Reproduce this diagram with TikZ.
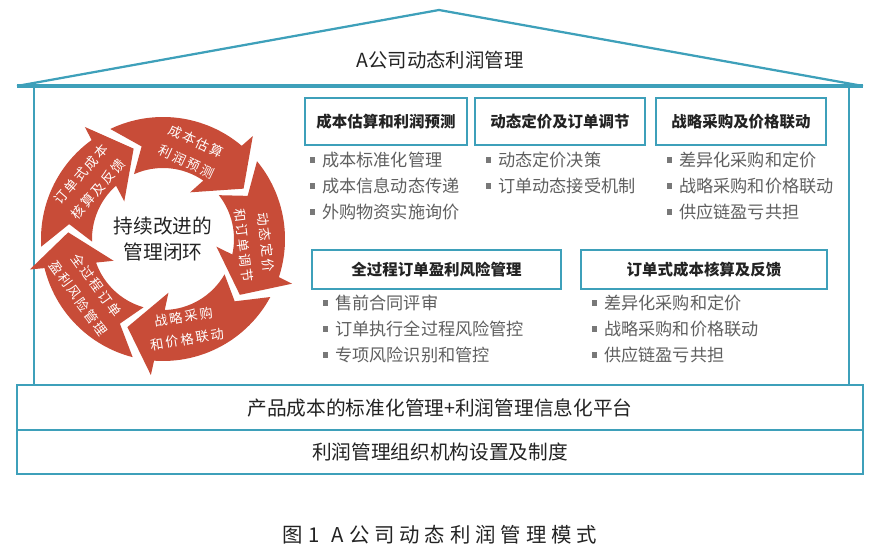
\documentclass[tikz,border=0pt]{standalone}
\usepackage{fontspec}
\setmainfont{Noto Sans CJK SC}
\newfontfamily\cjkspaced{Noto Sans CJK SC}[LetterSpace=15]
\newfontfamily\cjkcap{Noto Sans CJK SC}[LetterSpace=24]
\usepackage{xcolor}
\usetikzlibrary{positioning, calc}
\definecolor{myteal}{RGB}{62,160,186}
\definecolor{myred}{RGB}{200,76,56}
\definecolor{mydark}{RGB}{35,35,35}
\definecolor{mygray}{RGB}{95,95,95}
\definecolor{sqgray}{RGB}{120,120,120}
\tikzset{
  hdrbox/.style={rectangle, draw=myteal, fill=white, text=mydark,
    font=\fontsize{11}{13}\selectfont\bfseries, inner sep=0pt, line width=1.4pt},
  basebox/.style={rectangle, draw=myteal, fill=white, text=mydark,
    font=\fontsize{14}{16}\selectfont, inner sep=0pt, line width=1.4pt,
    minimum width=21.15cm},
  sqbox/.style={fill=sqgray, inner sep=0pt, minimum size=3.6pt},
  item/.style={anchor=west, text=mygray, inner sep=0pt,
    font=\fontsize{12.2}{14}\selectfont, label={[sqbox, label distance=5pt]left:{}}},
  roofline/.style={draw=myteal, line width=1.6pt, line join=round},
  bodyline/.style={draw=myteal, line width=1.4pt}
}
% one arrow of the cycle: #1 = angle of its tip, #2 = tip of the arrow before it
\newcommand{\cyclearrow}[2]{%
  \fill[cycarrow] ({#2+7.6}:122) arc[start angle={#2+7.6}, end angle={#1+17.8}, radius=122]
    -- ({#1+16.9}:136.6) -- (#1:95) -- ({#1+27.8}:54) -- ({#1+23.4}:71)
    arc[start angle={#1+23.4}, end angle={#2+6.1}, radius=71] -- ({#2-5}:95) -- cycle;}

\begin{document}
\begin{tikzpicture}[x=0.025cm, y=0.025cm,
  cycarrow/.style={fill=myred, shift={(163,319)}},
  cyctext/.style={text=white, align=center, inner sep=0pt,
    font=\cjkspaced\fontsize{9.4}{16}\selectfont},
  centertext/.style={text=mydark, align=center, inner sep=0pt,
    font=\fontsize{14}{18}\selectfont}]

  \useasboundingbox (0,0) rectangle (877,558);

  % Roof and walls
  \coordinate (eaveL) at (17,472);
  \coordinate (eaveR) at (863,472);
  \coordinate (apex) at (439,548);
  \draw[roofline] (eaveL) -- (apex) -- (eaveR);
  \draw[myteal, line width=2.2pt] (eaveL) -- (eaveR);
  \draw[bodyline] (34,472) -- (34,173);
  \draw[bodyline] (849,472) -- (849,173);
  \node[centertext, font=\fontsize{13.8}{16}\selectfont] (title) at (440,498) {A公司动态利润管理};

  % Foundation
  \node[basebox, minimum height=1.125cm] (base1) at (440,150.5) {产品成本的标准化管理+利润管理信息化平台};
  \node[basebox, minimum height=1.1cm] (base2) at (440,106) {利润管理组织机构设置及制度};

  % Cycle
  \coordinate (cc) at (163,319);
  \cyclearrow{108}{176}
  \cyclearrow{32}{108}
  \cyclearrow{-36}{32}
  \cyclearrow{-112}{-36}
  \cyclearrow{-184}{-112}
  \node[cyctext, rotate=-25] (c1) at ($(cc)+(72:92)$) {成本估算\\利润预测};
  \node[cyctext, rotate=-83] (c2) at ($(cc)+(-3:92)$) {动态定价\\和订单调节};
  \node[cyctext, rotate=9] (c3) at ($(cc)+(-76:92)$) {战略采购\\和价格联动};
  \node[cyctext, rotate=-54] (c4) at ($(cc)+(-145:92)$) {全过程订单\\盈利风险管理};
  \node[cyctext, rotate=49] (c5) at ($(cc)+(142:93)$) {订单式成本\\核算及反馈};
  \node[centertext] (ct) at (cc) {持续改进的\\管理闭环};

  % Upper row
  \node[hdrbox, minimum width=4.05cm, minimum height=1.175cm] (h1) at (386,436.5) {成本估算和利润预测};
  \node[hdrbox, minimum width=4.25cm, minimum height=1.175cm] (h2) at (560,436.5) {动态定价及订单调节};
  \node[hdrbox, minimum width=4.25cm, minimum height=1.175cm] (h3) at (741,436.5) {战略采购及价格联动};
  \node[item] (i11) at (322,398) {成本标准化管理};
  \node[item] (i12) at (322,372) {成本信息动态传递};
  \node[item] (i13) at (322,346) {外购物资实施询价};
  \node[item] (i21) at (498,398) {动态定价决策};
  \node[item] (i22) at (498,372) {订单动态接受机制};
  \node[item] (i31) at (679,398) {差异化采购和定价};
  \node[item] (i32) at (679,372) {战略采购和价格联动};
  \node[item] (i33) at (679,346) {供应链盈亏共担};

  % Lower row
  \node[hdrbox, minimum width=6.225cm, minimum height=0.975cm] (h4) at (436.5,288.5) {全过程订单盈利风险管理};
  \node[hdrbox, minimum width=6.15cm, minimum height=0.975cm] (h5) at (704,288.5) {订单式成本核算及反馈};
  \node[item] (i41) at (335,255) {售前合同评审};
  \node[item] (i42) at (335,229) {订单执行全过程风险管控};
  \node[item] (i43) at (335,203) {专项风险识别和管控};
  \node[item] (i51) at (604,255) {差异化采购和定价};
  \node[item] (i52) at (604,229) {战略采购和价格联动};
  \node[item] (i53) at (604,203) {供应链盈亏共担};

  % Caption
  \node[text=mydark, font=\cjkcap\fontsize{14.5}{16}\selectfont] (cap) at (440,23) {图1\hspace{0.6em}A公司动态利润管理模式};

\end{tikzpicture}
\end{document}
